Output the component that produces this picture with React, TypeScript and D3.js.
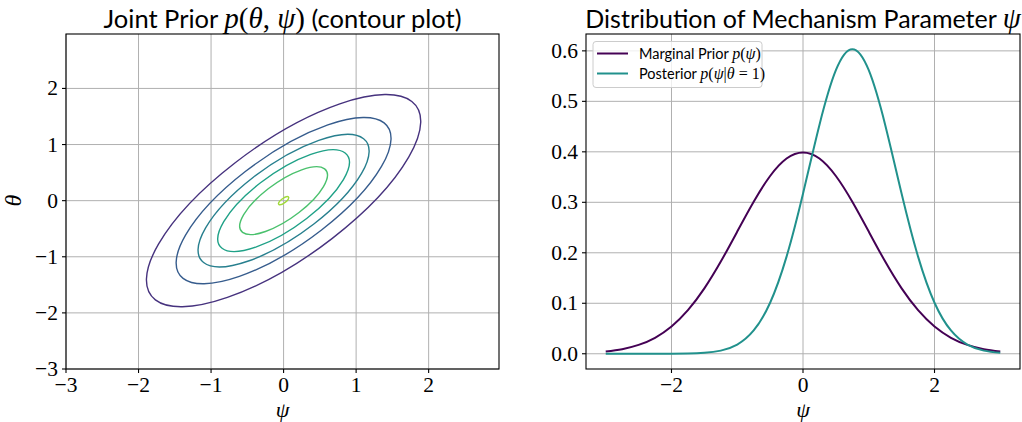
import * as d3 from "d3";

// joint prior contours (semi-axes in data units, major axis along the 45° diagonal)
const contourLevels = [0.04, 0.08, 0.12, 0.16, 0.2, 0.24];
const majorRadii = [2.5, 1.96, 1.56, 1.2, 0.8, 0.094];
const minorRadii = [0.95, 0.74, 0.59, 0.45, 0.3, 0.036];
const contourColors = ["#46327e", "#365c8d", "#277f8e", "#1fa187", "#4ac16d", "#a0da39"];

// densities of psi
const psiGrid = [
  -3, -2.75, -2.5, -2.25, -2, -1.75, -1.5, -1.25, -1, -0.75, -0.5, -0.25, 0,
  0.25, 0.5, 0.75, 1, 1.25, 1.5, 1.75, 2, 2.25, 2.5, 2.75, 3,
];
const priorDensity = [
  0.0044, 0.0091, 0.0175, 0.0317, 0.054, 0.0863, 0.1295, 0.1826, 0.242, 0.3011, 0.3521, 0.3867, 0.3989,
  0.3867, 0.3521, 0.3011, 0.242, 0.1826, 0.1295, 0.0863, 0.054, 0.0317, 0.0175, 0.0091, 0.0044,
];
const posteriorDensity = [
  0.0, 0.0, 0.0, 0.0, 0.0001, 0.0005, 0.0019, 0.0062, 0.0182, 0.0461, 0.1011, 0.1924, 0.3171,
  0.4533, 0.5616, 0.6032, 0.5616, 0.4533, 0.3171, 0.1924, 0.1011, 0.0461, 0.0182, 0.0062, 0.0019,
];

const leftTicks = [-3, -2, -1, 0, 1, 2];
const rightXTicks = [-2, 0, 2];
const rightYTicks = [0, 0.1, 0.2, 0.3, 0.4, 0.5, 0.6];

const SERIF = "'Liberation Serif', 'Times New Roman', serif";
const SANS = "Lato, 'Liberation Sans', sans-serif";
const GRID = "#b0b0b0";
const TICK_FS = 21.5;
const fmtMinus = (v: number, f = (n: number) => String(n)) => f(v).replace("-", "\u2212");

const Ital = ({ children, fs }: { children: string; fs?: number }) => (
  <tspan fontFamily={SERIF} fontStyle="italic" fontSize={fs}>{children}</tspan>
);
const Rom = ({ children, fs }: { children: string; fs?: number }) => (
  <tspan fontFamily={SERIF} fontStyle="normal" fontSize={fs}>{children}</tspan>
);

export default function App() {
  // left panel
  const L = { left: 66, right: 499, top: 34, bottom: 369 };
  const x1 = d3.scaleLinear().domain([-3, 2.97]).range([L.left, L.right]);
  const y1 = d3.scaleLinear().domain([-3, 2.97]).range([L.bottom, L.top]);
  const kx = x1(1) - x1(0);
  const ky = y1(0) - y1(1);

  // right panel
  const R = { left: 586, right: 1020, top: 34, bottom: 369 };
  const x2 = d3.scaleLinear().domain([-3.3, 3.3]).range([R.left, R.right]);
  const y2 = d3.scaleLinear().domain([-0.0302, 0.6334]).range([R.bottom, R.top]);

  const line = d3
    .line<number>()
    .x((_, i) => x2(psiGrid[i]))
    .y((d) => y2(d))
    .curve(d3.curveNatural);

  const mathT = 29; // math size in titles
  const mathL = 16; // math size in legend
  const tickY = 391.5;
  const labelY = 416.5;

  return (
    <svg width={1022} height={422} style={{ position: "absolute", left: 0, top: 0, background: "#fff" }}>
      <defs>
        <clipPath id="clipL">
          <rect x={L.left} y={L.top} width={L.right - L.left} height={L.bottom - L.top} />
        </clipPath>
      </defs>

      {/* ---------- left: joint prior contour ---------- */}
      <g>
        {leftTicks.map((t) => (
          <line key={"gx" + t} x1={x1(t)} x2={x1(t)} y1={L.top} y2={L.bottom} stroke={GRID} strokeWidth={1} />
        ))}
        {leftTicks.map((t) => (
          <line key={"gy" + t} x1={L.left} x2={L.right} y1={y1(t)} y2={y1(t)} stroke={GRID} strokeWidth={1} />
        ))}
        <g clipPath="url(#clipL)">
          <g transform={`translate(${x1(0)},${y1(0)}) scale(${kx},${-ky}) rotate(45)`}>
            {contourLevels.map((lv, i) => (
              <ellipse
                key={lv}
                cx={0}
                cy={0}
                rx={majorRadii[i]}
                ry={minorRadii[i]}
                fill="none"
                stroke={contourColors[i]}
                strokeWidth={1.4}
                vectorEffect="non-scaling-stroke"
              />
            ))}
          </g>
        </g>
        <rect x={L.left} y={L.top} width={L.right - L.left} height={L.bottom - L.top} fill="none" stroke="#000" strokeWidth={1.1} />
        {leftTicks.map((t) => (
          <g key={"tx" + t}>
            <line x1={x1(t)} x2={x1(t)} y1={L.bottom} y2={L.bottom + 4} stroke="#000" strokeWidth={1.1} />
            <text x={x1(t)} y={tickY} textAnchor="middle" fontFamily={SERIF} fontSize={TICK_FS}>
              {fmtMinus(t)}
            </text>
          </g>
        ))}
        {leftTicks.map((t) => (
          <g key={"ty" + t}>
            <line x1={L.left - 4} x2={L.left} y1={y1(t)} y2={y1(t)} stroke="#000" strokeWidth={1.1} />
            <text x={L.left - 8} y={y1(t) + 7} textAnchor="end" fontFamily={SERIF} fontSize={TICK_FS}>
              {fmtMinus(t)}
            </text>
          </g>
        ))}
        <text x={(L.left + L.right) / 2} y={28} textAnchor="middle" fontFamily={SANS} fontSize={25.5}>
          {"Joint Prior "}
          <Ital fs={mathT}>p</Ital>
          <Rom fs={mathT}>(</Rom>
          <Ital fs={mathT}>θ</Ital>
          <Rom fs={mathT}>{", "}</Rom>
          <Ital fs={mathT}>ψ</Ital>
          <Rom fs={mathT}>)</Rom>
          {" (contour plot)"}
        </text>
        <text x={(L.left + L.right) / 2} y={labelY} textAnchor="middle" fontFamily={SERIF} fontStyle="italic" fontSize={22}>
          ψ
        </text>
        <text transform={`translate(21,${y1(0)}) rotate(-90)`} textAnchor="middle" fontFamily={SERIF} fontStyle="italic" fontSize={24}>
          θ
        </text>
      </g>

      {/* ---------- right: marginal prior vs posterior ---------- */}
      <g>
        {rightXTicks.map((t) => (
          <line key={"rgx" + t} x1={x2(t)} x2={x2(t)} y1={R.top} y2={R.bottom} stroke={GRID} strokeWidth={1} />
        ))}
        {rightYTicks.map((t) => (
          <line key={"rgy" + t} x1={R.left} x2={R.right} y1={y2(t)} y2={y2(t)} stroke={GRID} strokeWidth={1} />
        ))}
        <path d={line(priorDensity) ?? ""} fill="none" stroke="#440154" strokeWidth={2} />
        <path d={line(posteriorDensity) ?? ""} fill="none" stroke="#21918c" strokeWidth={2} />
        <rect x={R.left} y={R.top} width={R.right - R.left} height={R.bottom - R.top} fill="none" stroke="#000" strokeWidth={1.1} />
        {rightXTicks.map((t) => (
          <g key={"rtx" + t}>
            <line x1={x2(t)} x2={x2(t)} y1={R.bottom} y2={R.bottom + 4} stroke="#000" strokeWidth={1.1} />
            <text x={x2(t)} y={tickY} textAnchor="middle" fontFamily={SERIF} fontSize={TICK_FS}>
              {fmtMinus(t)}
            </text>
          </g>
        ))}
        {rightYTicks.map((t) => (
          <g key={"rty" + t}>
            <line x1={R.left - 4} x2={R.left} y1={y2(t)} y2={y2(t)} stroke="#000" strokeWidth={1.1} />
            <text x={R.left - 8} y={y2(t) + 7} textAnchor="end" fontFamily={SERIF} fontSize={TICK_FS}>
              {d3.format(".1f")(t)}
            </text>
          </g>
        ))}

        {/* legend */}
        <g>
          <rect x={593} y={41.5} width={169} height={46} rx={3} fill="#fff" fillOpacity={0.8} stroke="#cccccc" strokeWidth={1} />
          <line x1={597} x2={628} y1={53.5} y2={53.5} stroke="#440154" strokeWidth={2} />
          <text x={639} y={58.5} fontFamily={SANS} fontSize={14.5}>
            {"Marginal Prior "}
            <Ital fs={mathL}>p</Ital>
            <Rom fs={mathL}>(</Rom>
            <Ital fs={mathL}>ψ</Ital>
            <Rom fs={mathL}>)</Rom>
          </text>
          <line x1={597} x2={628} y1={73.5} y2={73.5} stroke="#21918c" strokeWidth={2} />
          <text x={639} y={78.5} fontFamily={SANS} fontSize={14.5}>
            {"Posterior "}
            <Ital fs={mathL}>p</Ital>
            <Rom fs={mathL}>(</Rom>
            <Ital fs={mathL}>ψ</Ital>
            <Rom fs={mathL}>|</Rom>
            <Ital fs={mathL}>θ</Ital>
            <Rom fs={mathL}>{" = 1)"}</Rom>
          </text>
        </g>

        <text x={(R.left + R.right) / 2} y={28} textAnchor="middle" fontFamily={SANS} fontSize={25}>
          {"Distribution of Mechanism Parameter "}
          <Ital fs={mathT}>ψ</Ital>
        </text>
        <text x={(R.left + R.right) / 2} y={labelY} textAnchor="middle" fontFamily={SERIF} fontStyle="italic" fontSize={22}>
          ψ
        </text>
      </g>
    </svg>
  );
}
